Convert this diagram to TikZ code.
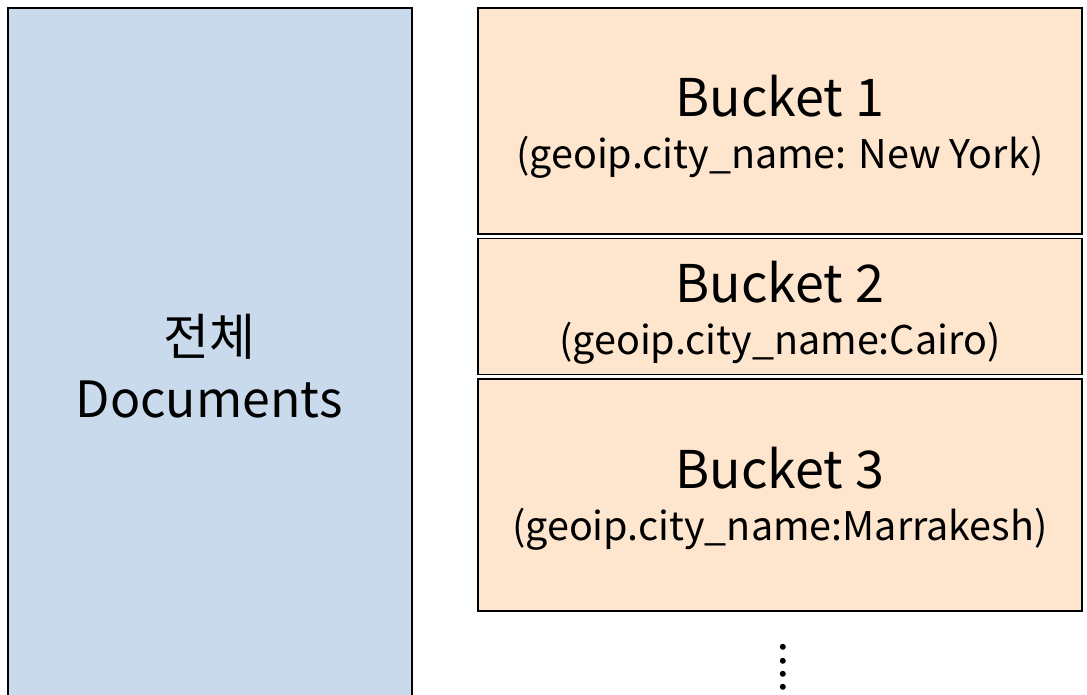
\documentclass[tikz,border=0pt]{standalone}
\usepackage{fontspec}
\setmainfont{Noto Sans CJK KR}
\usetikzlibrary{positioning}
\definecolor{docblue}{RGB}{200,218,235}
\definecolor{bucketpeach}{RGB}{253,229,206}
\tikzstyle{whole} = [rectangle, draw=black, line width=2pt, fill=docblue, minimum width=404pt, minimum height=700pt]
\tikzstyle{bucket} = [rectangle, draw=black, line width=1.6pt, fill=bucketpeach, minimum width=604pt]
\tikzstyle{label} = [text centered, align=center, inner sep=0pt, font=\fontsize{52}{56}\selectfont]
\newcommand{\subtxt}{\fontsize{39.5}{48}\selectfont}

\begin{document}
\begin{tikzpicture}[x=1pt,y=1pt,node distance=3pt]
	\clip (0,0) rectangle (1087,-694);
	\node (whole) [whole, anchor=north west] at (7,-7) {};
	\node (b1) [bucket, minimum height=226pt, anchor=north west] at (477,-7) {};
	\node (b2) [bucket, minimum height=136pt, below=of b1] {};
	\node (b3) [bucket, minimum height=232pt, below=of b2] {};
	
	\node (wholetxt) [label, font=\fontsize{50}{62}\selectfont] at (209,-366) {전체\\ Documents};
	\node (b1txt) [label] at ([yshift=-6pt]b1.center) {Bucket 1\\[-4pt] \subtxt (geoip.city\_name: New York)};
	\node (b2txt) [label] at ([yshift=-6pt]b2.center) {Bucket 2\\[-4pt] \subtxt (geoip.city\_name:Cairo)};
	\node (b3txt) [label] at ([yshift=-4pt]b3.center) {Bucket 3\\[-4pt] \subtxt (geoip.city\_name:Marrakesh)};
	
	\foreach \y in {35,49,62,75}
		\fill ([xshift=3pt,yshift=-\y pt]b3.south) circle (3pt);
\end{tikzpicture}
\end{document}
